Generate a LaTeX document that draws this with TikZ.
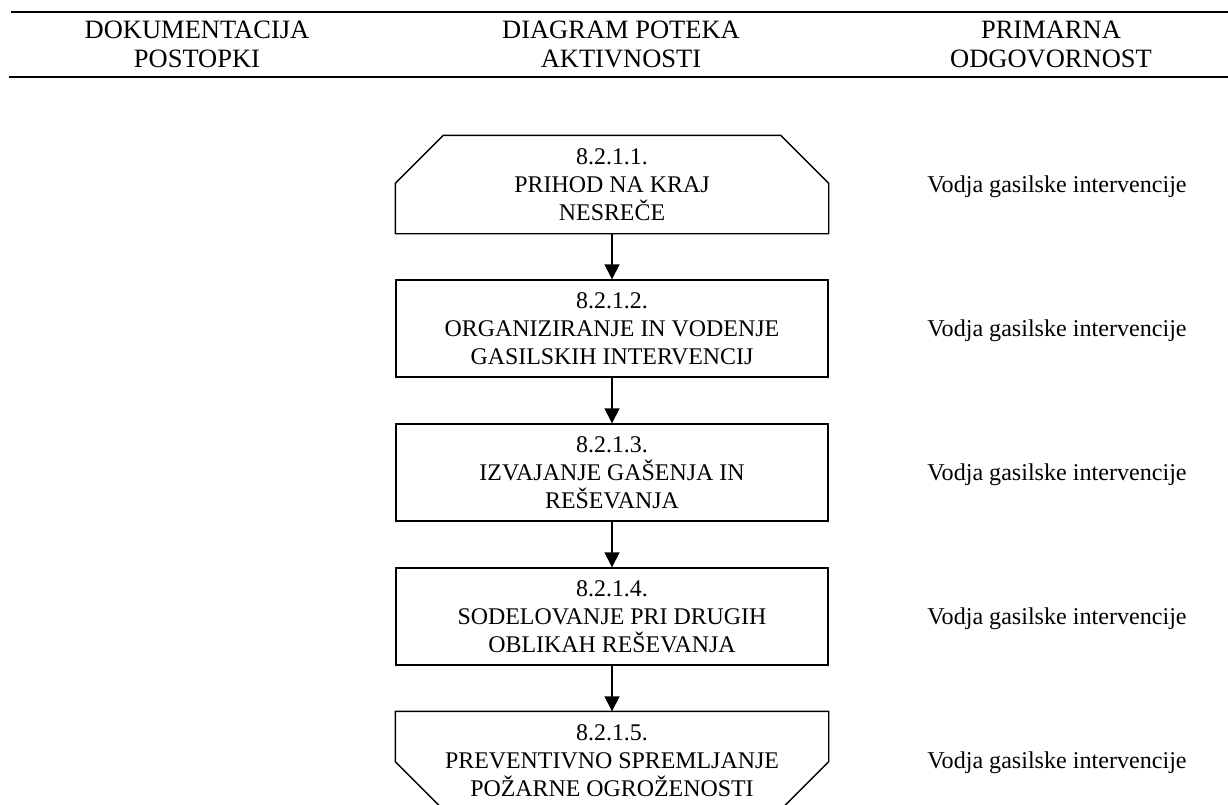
\documentclass[tikz,border=0pt]{standalone}
\usepackage{fontspec}
\setmainfont{Liberation Serif}
\usetikzlibrary{arrows.meta}
\begin{document}
\begin{tikzpicture}[x=1pt,y=-1pt,
  rule/.style={line width=2.3pt},
  hdr/.style={align=center,inner sep=0pt,font=\fontsize{26.5}{29}\selectfont},
  frame/.style={minimum width=432pt,minimum height=97pt,inner sep=0pt,align=center,
    font=\fontsize{23.9}{28}\selectfont,line width=1.4pt},
  boxed/.style={frame,draw},
  outline/.style={line width=1.4pt,line join=miter},
  flow/.style={line width=1.4pt,-{Triangle[length=15pt,width=15pt]}},
  resp/.style={anchor=base,inner sep=0pt,font=\fontsize{24.1}{28}\selectfont}
]
\clip (0,0) rectangle (1228,804);
% header
\draw[rule] (11,12) -- (1228,12);
\draw[rule] (9,77) -- (1228,77);
\node[hdr] (h1) at (197,44) {DOKUMENTACIJA\\POSTOPKI};
\node[hdr] (h2) at (621,44) {DIAGRAM POTEKA\\AKTIVNOSTI};
\node[hdr] (h3) at (1051,44) {PRIMARNA\\ODGOVORNOST};
% boxes
\node[frame] (b1) at (612,184.5) {8.2.1.1.\\PRIHOD NA KRAJ\\NESREČE};
\draw[outline] ([xshift=48pt]b1.north west) -- ([xshift=-48pt]b1.north east)
  -- ([yshift=-48pt]b1.north east) -- (b1.south east) -- (b1.south west)
  -- ([yshift=-48pt]b1.north west) -- cycle;
\node[boxed] (b2) at (612,328.5) {8.2.1.2.\\ORGANIZIRANJE IN VODENJE\\GASILSKIH INTERVENCIJ};
\node[boxed] (b3) at (612,472.5) {8.2.1.3.\\IZVAJANJE GAŠENJA IN\\REŠEVANJA};
\node[boxed] (b4) at (612,616.5) {8.2.1.4.\\SODELOVANJE PRI DRUGIH\\OBLIKAH REŠEVANJA};
\node[frame] (b5) at (612,760.5) {8.2.1.5.\\PREVENTIVNO SPREMLJANJE\\POŽARNE OGROŽENOSTI};
\draw[outline] (b5.north west) -- (b5.north east)
  -- ([yshift=48pt]b5.south east) -- ([xshift=-48pt]b5.south east)
  -- ([xshift=48pt]b5.south west) -- ([yshift=48pt]b5.south west) -- cycle;
% arrows
\draw[flow] (b1.south) -- (b2.north);
\draw[flow] (b2.south) -- (b3.north);
\draw[flow] (b3.south) -- (b4.north);
\draw[flow] (b4.south) -- (b5.north);
% responsibilities
\node[resp] (r1) at (1057,192) {Vodja gasilske intervencije};
\node[resp] (r2) at (1057,336) {Vodja gasilske intervencije};
\node[resp] (r3) at (1057,480) {Vodja gasilske intervencije};
\node[resp] (r4) at (1057,624) {Vodja gasilske intervencije};
\node[resp] (r5) at (1057,768) {Vodja gasilske intervencije};
\end{tikzpicture}
\end{document}
